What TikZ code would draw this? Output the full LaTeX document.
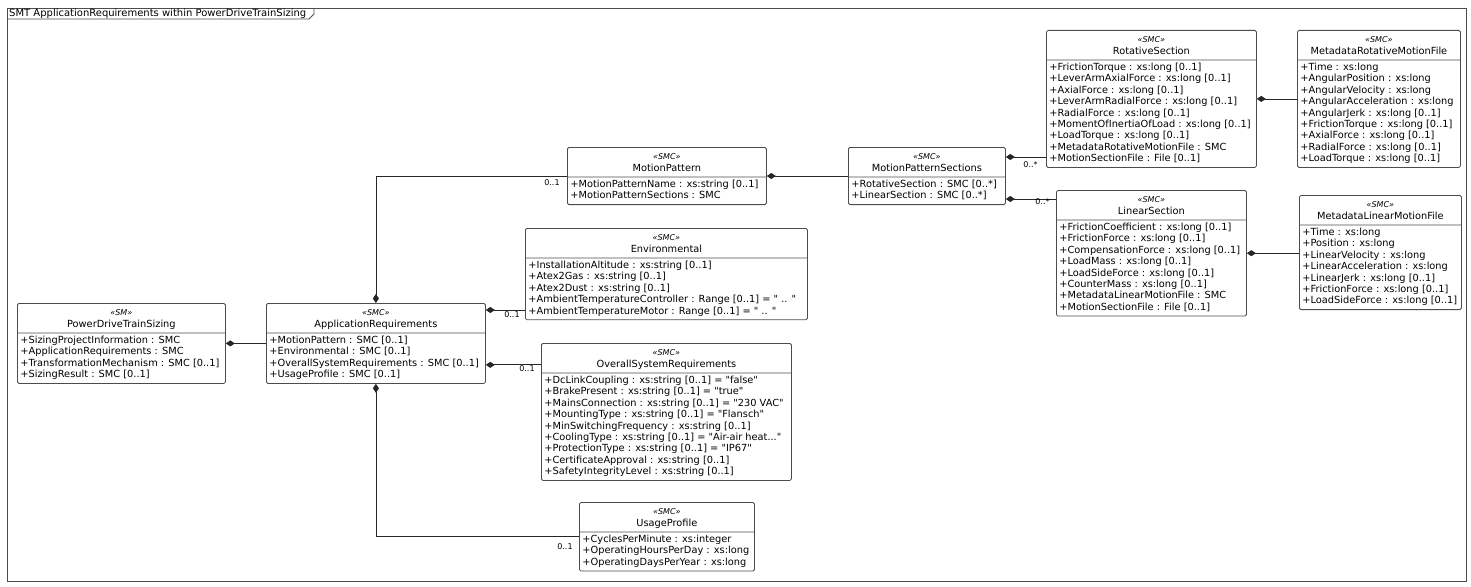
\documentclass[tikz,border=0pt]{standalone}
\usepackage{fontspec}
\setmainfont{DejaVu Sans}[Ligatures=TeXOff]
\usetikzlibrary{shapes.multipart}
\usetikzlibrary{arrows.meta}

\newcommand{\classhead}[2]{\begin{tabular}{@{}c@{}}\rule{0pt}{10pt}{\fontsize{8}{9}\selectfont\itshape «#1»}\\#2\end{tabular}}
\newcommand{\attrs}[1]{\begin{tabular}{@{}l@{}}#1\end{tabular}}

\tikzset{
    smc/.style={rectangle split, rectangle split parts=2, rectangle split part align={center,left},
        draw=black!70, line width=0.8pt, rounded corners=1.5pt, inner xsep=3pt, inner ysep=2pt,
        anchor=north west, font=\fontsize{9.8}{11.4}\selectfont},
    comp/.style={draw=black!85, line width=0.8pt, {Diamond[length=9pt,width=6pt]}-},
    mult/.style={font=\fontsize{8}{9}\selectfont, inner sep=1pt}
}

\begin{document}
\begin{tikzpicture}[x=1pt, y=-1pt]
    \useasboundingbox (0,0) rectangle (1471,586);

    % frame
    \draw[black!70, line width=0.8pt] (7,8) rectangle (1466,581);
    \node[anchor=base west, inner sep=0pt, font=\fontsize{10}{11}\selectfont] (title) at (9,16.5) {SMT ApplicationRequirements within PowerDriveTrainSizing};
    \draw[black!70, line width=0.8pt] (7,19) -- (309,19) -- (314,14) -- (314,8);

    % classes
    \node[smc, minimum width=208pt] (pdts) at (17,303) {\classhead{SM}{PowerDriveTrainSizing}
        \nodepart{two}\attrs{+SizingProjectInformation : SMC\\+ApplicationRequirements : SMC\\+TransformationMechanism : SMC [0..1]\\+SizingResult : SMC [0..1]}};
    \node[smc, minimum width=219pt] (ar) at (266,303) {\classhead{SMC}{ApplicationRequirements}
        \nodepart{two}\attrs{+MotionPattern : SMC [0..1]\\+Environmental : SMC [0..1]\\+OverallSystemRequirements : SMC [0..1]\\+UsageProfile : SMC [0..1]}};
    \node[smc, minimum width=199pt] (mp) at (567,147) {\classhead{SMC}{MotionPattern}
        \nodepart{two}\attrs{+MotionPatternName : xs:string [0..1]\\+MotionPatternSections : SMC}};
    \node[smc, minimum width=282pt] (env) at (525,228) {\classhead{SMC}{Environmental}
        \nodepart{two}\attrs{+InstallationAltitude : xs:string [0..1]\\+Atex2Gas : xs:string [0..1]\\+Atex2Dust : xs:string [0..1]\\+AmbientTemperatureController : Range [0..1] = " .. "\\+AmbientTemperatureMotor : Range [0..1] = " .. "}};
    \node[smc, minimum width=250pt] (osr) at (541,343) {\classhead{SMC}{OverallSystemRequirements}
        \nodepart{two}\attrs{+DcLinkCoupling : xs:string [0..1] = "false"\\+BrakePresent : xs:string [0..1] = "true"\\+MainsConnection : xs:string [0..1] = "230 VAC"\\+MountingType : xs:string [0..1] = "Flansch"\\+MinSwitchingFrequency : xs:string [0..1]\\+CoolingType : xs:string [0..1] = "Air-air heat..."\\+ProtectionType : xs:string [0..1] = "IP67"\\+CertificateApproval : xs:string [0..1]\\+SafetyIntegrityLevel : xs:string [0..1]}};
    \node[smc, minimum width=175pt] (up) at (579,502) {\classhead{SMC}{UsageProfile}
        \nodepart{two}\attrs{+CyclesPerMinute : xs:integer\\+OperatingHoursPerDay : xs:long\\+OperatingDaysPerYear : xs:long}};
    \node[smc, minimum width=157pt] (mps) at (848,147) {\classhead{SMC}{MotionPatternSections}
        \nodepart{two}\attrs{+RotativeSection : SMC [0..*]\\+LinearSection : SMC [0..*]}};
    \node[smc, minimum width=210pt] (rot) at (1046,30) {\classhead{SMC}{RotativeSection}
        \nodepart{two}\attrs{+FrictionTorque : xs:long [0..1]\\+LeverArmAxialForce : xs:long [0..1]\\+AxialForce : xs:long [0..1]\\+LeverArmRadialForce : xs:long [0..1]\\+RadialForce : xs:long [0..1]\\+MomentOfInertiaOfLoad : xs:long [0..1]\\+LoadTorque : xs:long [0..1]\\+MetadataRotativeMotionFile : SMC\\+MotionSectionFile : File [0..1]}};
    \node[smc, minimum width=190pt] (lin) at (1056,190) {\classhead{SMC}{LinearSection}
        \nodepart{two}\attrs{+FrictionCoefficient : xs:long [0..1]\\+FrictionForce : xs:long [0..1]\\+CompensationForce : xs:long [0..1]\\+LoadMass : xs:long [0..1]\\+LoadSideForce : xs:long [0..1]\\+CounterMass : xs:long [0..1]\\+MetadataLinearMotionFile : SMC\\+MotionSectionFile : File [0..1]}};
    \node[smc, minimum width=163pt] (mrot) at (1297,30) {\classhead{SMC}{MetadataRotativeMotionFile}
        \nodepart{two}\attrs{+Time : xs:long\\+AngularPosition : xs:long\\+AngularVelocity : xs:long\\+AngularAcceleration : xs:long\\+AngularJerk : xs:long [0..1]\\+FrictionTorque : xs:long [0..1]\\+AxialForce : xs:long [0..1]\\+RadialForce : xs:long [0..1]\\+LoadTorque : xs:long [0..1]}};
    \node[smc, minimum width=162pt] (mlin) at (1299,195) {\classhead{SMC}{MetadataLinearMotionFile}
        \nodepart{two}\attrs{+Time : xs:long\\+Position : xs:long\\+LinearVelocity : xs:long\\+LinearAcceleration : xs:long\\+LinearJerk : xs:long [0..1]\\+FrictionForce : xs:long [0..1]\\+LoadSideForce : xs:long [0..1]}};

    % compositions
    \coordinate (arenv) at ([yshift=-7pt]ar.north east);
    \coordinate (arosr) at ([yshift=19pt]ar.south east);
    \coordinate (mpsrot) at ([yshift=-10pt]mps.north east);
    \coordinate (mpslin) at ([yshift=6pt]mps.south east);

    \draw[comp] (pdts.east) -- (pdts.east -| ar.west);
    \draw[comp] (ar.north) |- (mp.west) node[mult, anchor=north east, xshift=-6pt, yshift=-2pt] {0..1};
    \draw[comp] (arenv) -- (arenv -| env.west) node[mult, anchor=north east, xshift=-4pt] {0..1};
    \draw[comp] (arosr) -- (arosr -| osr.west) node[mult, anchor=north east, xshift=-5pt, yshift=1pt] {0..1};
    \draw[comp] (ar.south) |- (up.west) node[mult, anchor=north east, xshift=-5pt, yshift=-5pt] {0..1};
    \draw[comp] (mp.east) -- (mp.east -| mps.west);
    \draw[comp] (mpsrot) -- (mpsrot -| rot.west) node[mult, anchor=north east, xshift=-7pt, yshift=-3pt] {0..*};
    \draw[comp] (mpslin) -- (mpslin -| lin.west) node[mult, anchor=north east, xshift=-5pt, yshift=2pt] {0..*};
    \draw[comp] (rot.east) -- (rot.east -| mrot.west);
    \draw[comp] (lin.east) -- (lin.east -| mlin.west);
\end{tikzpicture}
\end{document}
